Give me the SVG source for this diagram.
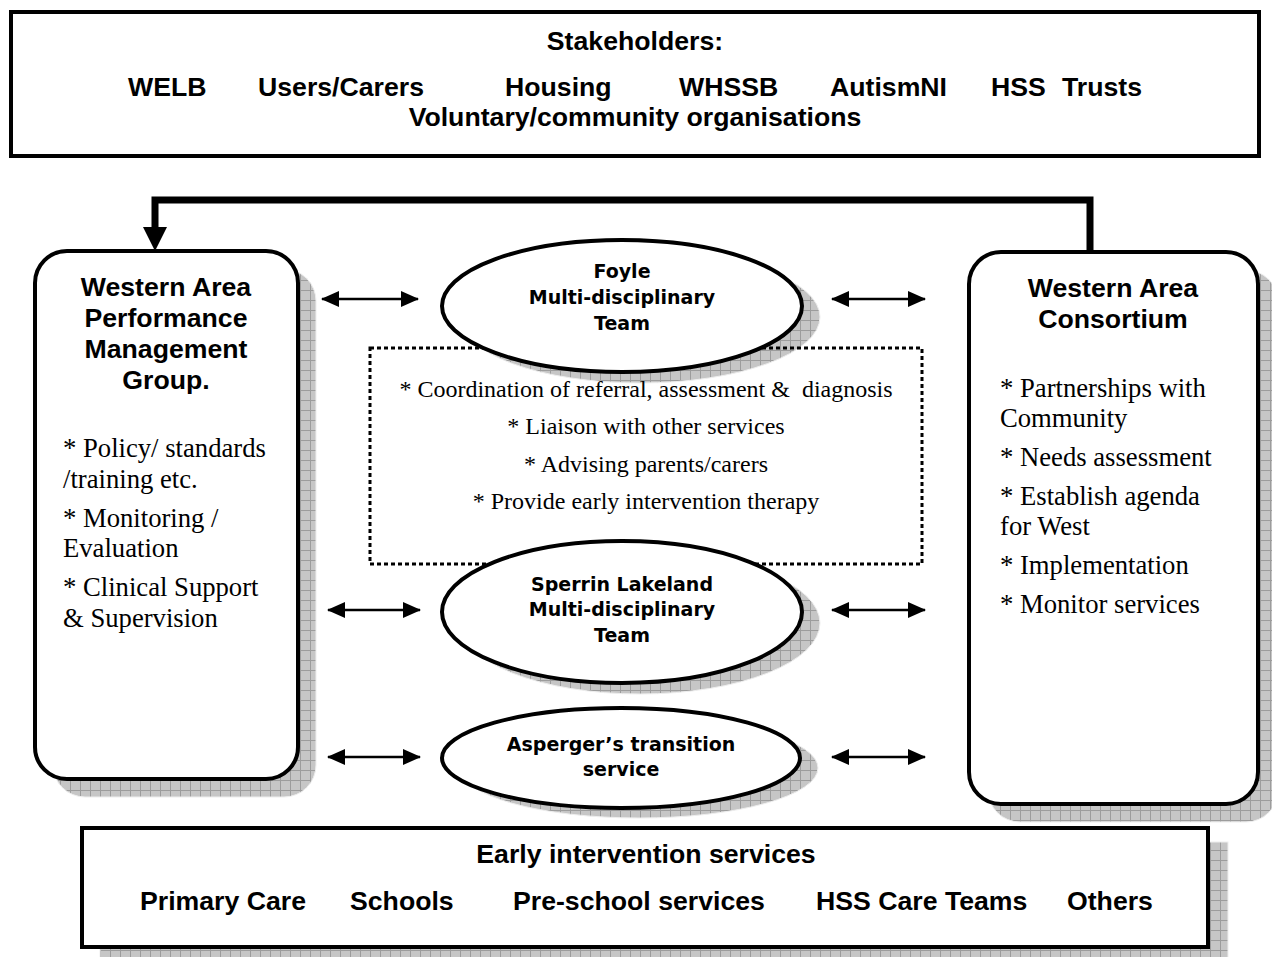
<svg xmlns="http://www.w3.org/2000/svg" width="1272" height="957" viewBox="0 0 1272 957">
<style>
.hd{font-family:"Liberation Sans",Arial,sans-serif;font-weight:bold;font-size:26.67px;fill:#000}
.bd{font-family:"Liberation Serif","Times New Roman",serif;font-size:26.67px;fill:#000}
.cb{font-family:"Liberation Serif","Times New Roman",serif;font-size:24px;fill:#000;text-anchor:middle}
.el{font-family:"DejaVu Sans",Verdana,sans-serif;font-weight:bold;font-size:19px;fill:#000;text-anchor:middle}
.mid{text-anchor:middle}
.box{fill:#fff;stroke:#000;stroke-width:4}
.sh{fill:url(#grid);stroke:#eee;stroke-width:1}
.arr{stroke:#000;stroke-width:2.5;fill:none}
</style>
<defs>
<pattern id="grid" width="10" height="10" patternUnits="userSpaceOnUse">
<rect width="10" height="10" fill="#c6c6c6"/>
<path d="M0 0.5H10M0.5 0V10" stroke="#9c9c9c" stroke-width="1"/>
</pattern>
<marker id="ah" markerUnits="userSpaceOnUse" markerWidth="18" markerHeight="16" refX="17" refY="8" orient="auto-start-reverse">
<path d="M0 0L18 8L0 16Z" fill="#000"/>
</marker>
</defs>

<g id="stakeholders">
<rect x="11" y="12" width="1248" height="144" fill="#fff" stroke="#000" stroke-width="4"/>
<text class="hd mid" x="635" y="50">Stakeholders:</text>
<text class="hd" x="128" y="96">WELB</text>
<text class="hd" x="258" y="96">Users/Carers</text>
<text class="hd" x="505" y="96">Housing</text>
<text class="hd" x="679" y="96">WHSSB</text>
<text class="hd" x="830" y="96">AutismNI</text>
<text class="hd" x="991" y="96">HSS</text>
<text class="hd" x="1062" y="96">Trusts</text>
<text class="hd mid" x="635" y="126">Voluntary/community organisations</text>
</g>

<g id="shadows">
<rect class="sh" x="53" y="269" width="263" height="528" rx="32"/>
<rect class="sh" x="988" y="270" width="290" height="552" rx="32"/>
<rect class="sh" x="100" y="842" width="1128" height="130"/>
<ellipse class="sh" cx="640" cy="317" rx="180" ry="66"/>
<ellipse class="sh" cx="640" cy="623" rx="180" ry="71"/>
<ellipse class="sh" cx="639" cy="768" rx="179" ry="50"/>
</g>

<g id="wapmg">
<rect class="box" x="35" y="251" width="263" height="528" rx="32"/>
<text class="hd mid" x="166" y="296">Western Area</text>
<text class="hd mid" x="166" y="327">Performance</text>
<text class="hd mid" x="166" y="358">Management</text>
<text class="hd mid" x="166" y="389">Group.</text>
<text class="bd" x="63" y="457">* Policy/ standards</text>
<text class="bd" x="63" y="488">/training etc.</text>
<text class="bd" x="63" y="527">* Monitoring /</text>
<text class="bd" x="63" y="557">Evaluation</text>
<text class="bd" x="63" y="596">* Clinical Support</text>
<text class="bd" x="63" y="627">&amp; Supervision</text>
</g>

<g id="wac">
<rect class="box" x="969" y="252" width="289" height="552" rx="32"/>
<text class="hd mid" x="1113" y="297">Western Area</text>
<text class="hd mid" x="1113" y="328">Consortium</text>
<text class="bd" x="1000" y="397">* Partnerships with</text>
<text class="bd" x="1000" y="427">Community</text>
<text class="bd" x="1000" y="466">* Needs assessment</text>
<text class="bd" x="1000" y="505">* Establish agenda</text>
<text class="bd" x="1000" y="535">for West</text>
<text class="bd" x="1000" y="574">* Implementation</text>
<text class="bd" x="1000" y="613">* Monitor services</text>
</g>

<g id="roles">
<rect x="370" y="348" width="552" height="216" fill="none" stroke="#000" stroke-width="3" stroke-dasharray="4 3"/>
<text class="cb" x="646" y="397">* Coordination of referral, assessment &amp;&#160; diagnosis</text>
<text class="cb" x="646" y="434">* Liaison with other services</text>
<text class="cb" x="646" y="472">* Advising parents/carers</text>
<text class="cb" x="646" y="509">* Provide early intervention therapy</text>
</g>

<g id="foyle">
<ellipse class="box" cx="622" cy="306" rx="180" ry="66"/>
<text class="el" x="622" y="278">Foyle</text>
<text class="el" x="622" y="304">Multi-disciplinary</text>
<text class="el" x="622" y="330">Team</text>
</g>

<g id="sperrin">
<ellipse class="box" cx="622" cy="612" rx="180" ry="71"/>
<text class="el" x="622" y="591">Sperrin Lakeland</text>
<text class="el" x="622" y="616">Multi-disciplinary</text>
<text class="el" x="622" y="642">Team</text>
</g>

<g id="asperger">
<ellipse class="box" cx="621" cy="758" rx="179" ry="50"/>
<text class="el" x="621" y="751">Asperger’s transition</text>
<text class="el" x="621" y="776">service</text>
</g>

<g id="early">
<rect class="box" x="82" y="828" width="1126" height="119"/>
<text class="hd mid" x="646" y="863">Early intervention services</text>
<text class="hd" x="140" y="910">Primary Care</text>
<text class="hd" x="350" y="910">Schools</text>
<text class="hd" x="513" y="910">Pre-school services</text>
<text class="hd" x="816" y="910">HSS Care Teams</text>
<text class="hd" x="1067" y="910">Others</text>
</g>

<g id="connectors">
<path d="M1090 252V200H155V228" fill="none" stroke="#000" stroke-width="7"/>
<path d="M143 227L167 227L155 251Z" fill="#000"/>
<line class="arr" x1="322" y1="299" x2="418" y2="299" marker-start="url(#ah)" marker-end="url(#ah)"/>
<line class="arr" x1="832" y1="299" x2="925" y2="299" marker-start="url(#ah)" marker-end="url(#ah)"/>
<line class="arr" x1="328" y1="610" x2="420" y2="610" marker-start="url(#ah)" marker-end="url(#ah)"/>
<line class="arr" x1="832" y1="610" x2="925" y2="610" marker-start="url(#ah)" marker-end="url(#ah)"/>
<line class="arr" x1="328" y1="757" x2="420" y2="757" marker-start="url(#ah)" marker-end="url(#ah)"/>
<line class="arr" x1="832" y1="757" x2="925" y2="757" marker-start="url(#ah)" marker-end="url(#ah)"/>
</g>
</svg>
